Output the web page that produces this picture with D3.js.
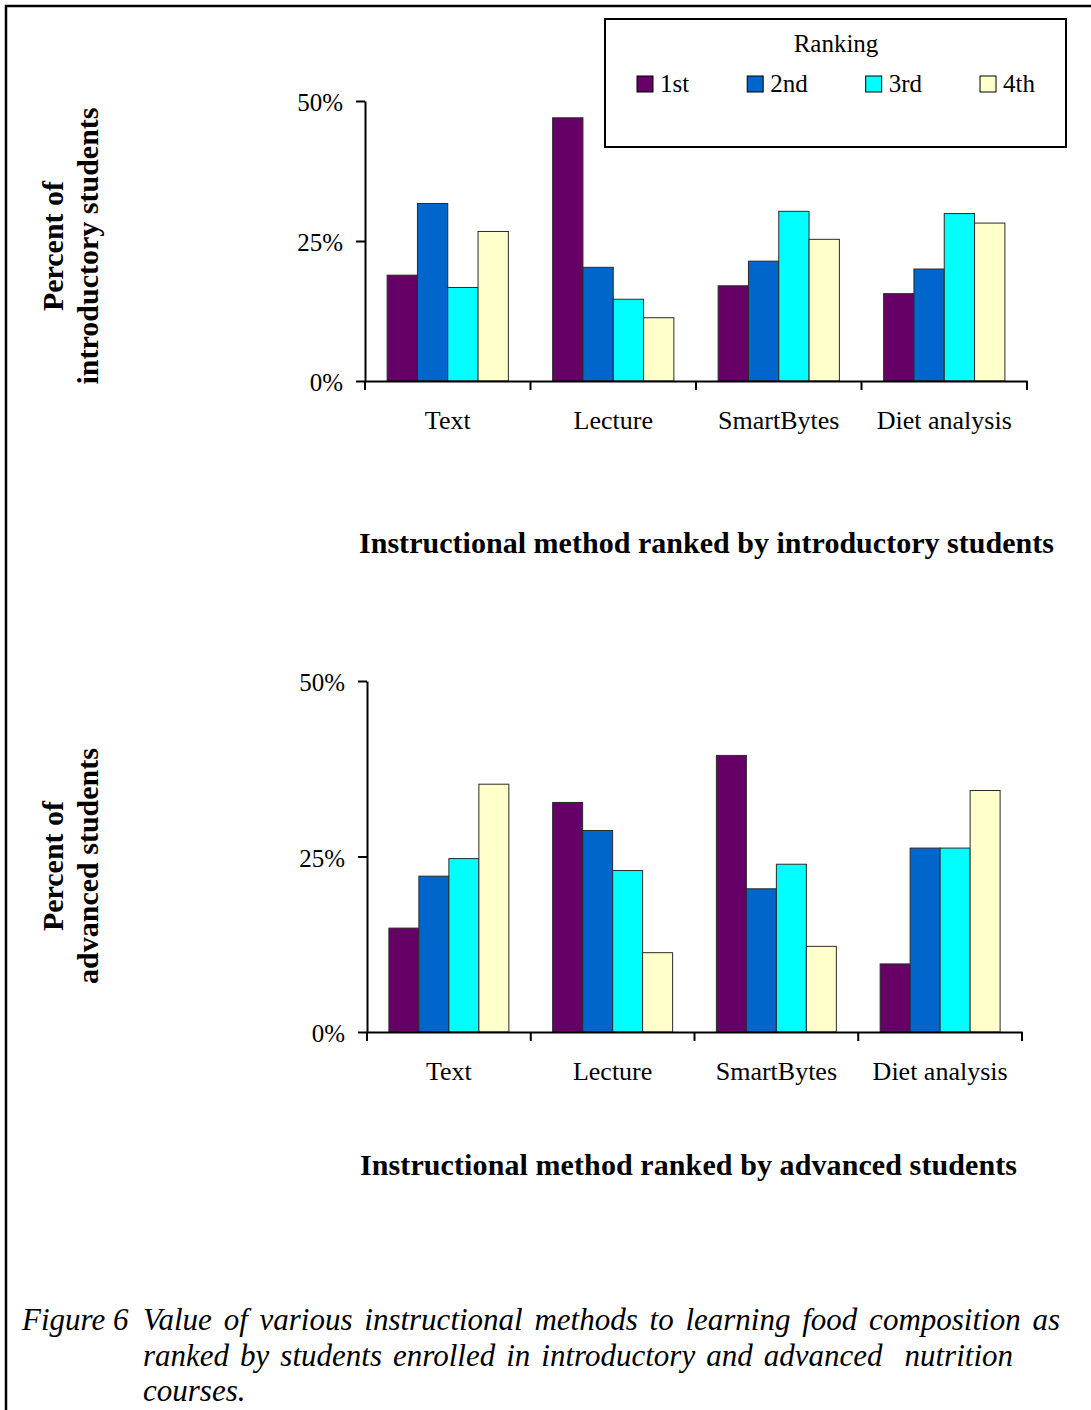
<!DOCTYPE html>
<html>
<head>
<meta charset="utf-8">
<script src="https://cdn.jsdelivr.net/npm/d3@7"></script>
<style>
  html, body { margin: 0; padding: 0; background: #fff; }
  svg { display: block; }
  text { font-family: "Liberation Serif", "Times New Roman", Times, serif; fill: #000; }
</style>
</head>
<body>
<script>
// Instructional methods compared, and the four ranking positions
const methods = ["Text", "Lecture", "SmartBytes", "Diet analysis"];
const rankings = ["1st", "2nd", "3rd", "4th"];
const rankColors = ["#660066", "#0066CC", "#00FFFF", "#FFFFCC"];

// Percent of students giving each ranking (rows follow `methods`, columns follow `rankings`)
const introValues = [
  [18.9, 31.7, 16.7, 26.7],
  [47.0, 20.3, 14.6, 11.3],
  [17.0, 21.4, 30.3, 25.3],
  [15.6, 20.0, 29.9, 28.2]
];
const advancedValues = [
  [14.8, 22.2, 24.7, 35.3],
  [32.7, 28.7, 23.0, 11.3],
  [39.4, 20.4, 23.9, 12.2],
  [9.7, 26.2, 26.2, 34.4]
];

const yTicks = [0, 25, 50];

const captionLines = [
  "Value of various instructional methods to learning food composition as",
  "ranked by students enrolled in introductory and advanced  nutrition",
  "courses."
];

const W = 1091, H = 1410;
const svg = d3.select("body").append("svg")
  .attr("width", W).attr("height", H);

// Page frame (left and top rules)
svg.append("path")
  .attr("d", `M6,${H} V6 H${W}`)
  .attr("fill", "none").attr("stroke", "#000").attr("stroke-width", 2.5);

const panels = [
  {
    values: introValues,
    xRange: [365, 1027], yRange: [381, 101],
    yTitle: ["Percent of", "introductory students"], yTitleCenter: 246,
    xTitle: "Instructional method ranked by introductory students",
    xTitleX: 359, xTitleY: 553, xTitleLen: 695,
    legend: true
  },
  {
    values: advancedValues,
    xRange: [367, 1022], yRange: [1032, 681],
    yTitle: ["Percent of", "advanced students"], yTitleCenter: 866,
    xTitle: "Instructional method ranked by advanced students",
    xTitleX: 360, xTitleY: 1175, xTitleLen: 657,
    legend: false
  }
];

panels.forEach(p => {
  const g = svg.append("g");

  const x = d3.scaleBand().domain(methods).range(p.xRange).paddingInner(0).paddingOuter(0);
  const xInner = d3.scaleBand().domain(rankings).range([0, x.bandwidth()])
    .paddingInner(0).paddingOuter(0.73);
  const y = d3.scaleLinear().domain([0, 50]).range(p.yRange);

  // Bars
  const groups = g.selectAll("g.method")
    .data(methods.map((m, i) => ({ method: m, vals: p.values[i] })))
    .join("g").attr("class", "method")
    .attr("transform", d => `translate(${x(d.method)},0)`);

  groups.selectAll("rect")
    .data(d => d.vals.map((v, j) => ({ rank: rankings[j], value: v, color: rankColors[j] })))
    .join("rect")
    .attr("x", d => xInner(d.rank))
    .attr("y", d => y(d.value))
    .attr("width", xInner.bandwidth())
    .attr("height", d => y(0) - y(d.value))
    .attr("fill", d => d.color)
    .attr("stroke", "#2a2a2a")
    .attr("stroke-width", 1);

  // Y axis
  const yAxis = g.append("g")
    .attr("transform", `translate(${p.xRange[0]},0)`)
    .call(d3.axisLeft(y).tickValues(yTicks).tickSize(9).tickSizeOuter(0).tickPadding(13)
      .tickFormat(d => d + "%"));
  yAxis.select(".domain").attr("stroke", "#000").attr("stroke-width", 2);
  yAxis.selectAll(".tick line").attr("stroke", "#000").attr("stroke-width", 2);
  yAxis.selectAll(".tick text")
    .attr("font-size", 25).attr("font-family", null).attr("dy", "0.38em");

  // X axis: category labels centred in each band, ticks at band boundaries
  const xAxis = g.append("g")
    .attr("transform", `translate(0,${p.yRange[0]})`)
    .call(d3.axisBottom(x).tickSize(0).tickSizeOuter(0));
  xAxis.select(".domain").attr("stroke", "#000").attr("stroke-width", 2);
  xAxis.selectAll(".tick text")
    .attr("font-size", 26).attr("font-family", null)
    .attr("y", 48).attr("dy", null);

  const bounds = methods.map(m => x(m)).concat([x.range()[1]]);
  xAxis.selectAll("line.sep").data(bounds).join("line")
    .attr("class", "sep")
    .attr("x1", d => d).attr("x2", d => d)
    .attr("y1", 0).attr("y2", 9)
    .attr("stroke", "#000").attr("stroke-width", 2);

  // Axis titles
  const yt = g.append("g")
    .attr("transform", `translate(0,${p.yTitleCenter})`);
  yt.selectAll("text").data(p.yTitle).join("text")
    .attr("transform", (d, i) => `translate(${63 + i * 35},0) rotate(-90)`)
    .attr("text-anchor", "middle")
    .attr("font-size", 30).attr("font-weight", "bold")
    .text(d => d);

  g.append("text")
    .attr("x", p.xTitleX).attr("y", p.xTitleY)
    .attr("font-size", 30).attr("font-weight", "bold")
    .attr("textLength", p.xTitleLen).attr("lengthAdjust", "spacing")
    .text(p.xTitle);

  // Legend
  if (p.legend) {
    const lg = g.append("g");
    lg.append("rect")
      .attr("x", 605).attr("y", 19).attr("width", 461).attr("height", 128)
      .attr("fill", "#fff").attr("stroke", "#000").attr("stroke-width", 2);
    lg.append("text")
      .attr("x", 836).attr("y", 52).attr("text-anchor", "middle")
      .attr("font-size", 25).text("Ranking");

    let cx = 637;
    rankings.forEach((r, j) => {
      lg.append("rect")
        .attr("x", cx).attr("y", 76).attr("width", 16).attr("height", 16)
        .attr("fill", rankColors[j]).attr("stroke", "#000").attr("stroke-width", 1);
      const t = lg.append("text")
        .attr("x", cx + 23).attr("y", 92)
        .attr("font-size", 25).text(r);
      cx += 23 + t.node().getComputedTextLength() + 58;
    });
  }
});

// Figure caption (justified italic block)
const cap = svg.append("g").attr("font-style", "italic").attr("font-size", 31);
cap.append("text").attr("x", 22).attr("y", 1330).text("Figure 6");
const capY = [1330, 1366, 1401];
const capRight = [1060, 1013, null];
captionLines.forEach((line, i) => {
  const t = cap.append("text").attr("x", 143).attr("y", capY[i])
    .attr("xml:space", "preserve").style("white-space", "pre").text(line);
  if (capRight[i] !== null) {
    const natural = t.node().getComputedTextLength();
    const spaces = (line.match(/ /g) || []).length;
    t.attr("word-spacing", (capRight[i] - 143 - natural) / spaces);
  }
});
</script>
</body>
</html>
